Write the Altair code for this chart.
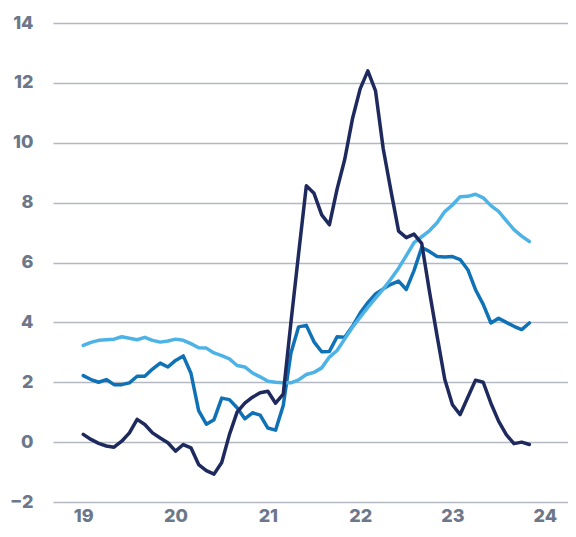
import altair as alt
import pandas as pd

# Monthly observations, Jan 2019 .. Nov 2023
start_year = 2019
dark = [0.26, 0.09, -0.04, -0.13, -0.17, 0.03, 0.31, 0.76, 0.59, 0.31, 0.14, -0.02, -0.30, -0.08, -0.19,
        -0.75, -0.95, -1.07, -0.68, 0.25, 1.0, 1.3, 1.5, 1.65, 1.7, 1.3, 1.6,
        4.0, 6.3, 8.56, 8.31, 7.59, 7.26, 8.45, 9.45, 10.8, 11.8, 12.4, 11.73, 9.8, 8.4,
        7.05, 6.83, 6.95, 6.64, 5.05, 3.55, 2.1, 1.25, 0.92, 1.5, 2.07, 2.0, 1.3, 0.7, 0.25, -0.05, 0.0, -0.08]
mid = [2.22, 2.09, 2.0, 2.09, 1.92, 1.92, 1.98, 2.2, 2.2, 2.44, 2.64, 2.51, 2.73, 2.88,
       2.3, 1.05, 0.6, 0.75, 1.47, 1.42, 1.15, 0.78, 0.98, 0.9, 0.47, 0.4, 1.22,
       2.98, 3.85, 3.9, 3.35, 3.02, 3.03, 3.52, 3.5, 3.87, 4.31, 4.66, 4.95, 5.12, 5.27,
       5.38, 5.1, 5.73, 6.5, 6.37, 6.2, 6.18, 6.2, 6.1, 5.76, 5.09, 4.6, 3.98, 4.14, 4.0, 3.87, 3.76, 3.98]
light = [3.23, 3.33, 3.4, 3.42, 3.44, 3.52, 3.47, 3.42, 3.5, 3.4, 3.34, 3.38, 3.44, 3.4, 3.29,
         3.15, 3.14, 2.98, 2.89, 2.78, 2.56, 2.51, 2.31, 2.18, 2.03, 2.0, 1.98,
         1.98, 2.08, 2.26, 2.33, 2.48, 2.84, 3.06, 3.45, 3.84, 4.17, 4.5, 4.81, 5.11, 5.45,
         5.81, 6.23, 6.66, 6.86, 7.06, 7.33, 7.7, 7.92, 8.2, 8.21, 8.28, 8.16, 7.9, 7.71, 7.4, 7.1, 6.88, 6.7]

x_ticks = [2019, 2020, 2021, 2022, 2023, 2024]
y_ticks = [-2, 0, 2, 4, 6, 8, 10, 12, 14]

colors = {"dark": "#1e2a5e", "mid": "#0f72b6", "light": "#4db3e7"}
grid_color = "#b3b8c1"
label_color = "#6c778a"

t = [start_year + i / 12 for i in range(len(dark))]


def frame(values):
    return pd.DataFrame({"t": t, "v": values})


x_enc = alt.X("t:Q",
              scale=alt.Scale(domain=[2018.672, 2024.252], nice=False, zero=False),
              axis=alt.Axis(values=x_ticks, labelExpr="format(datum.value % 100, 'd')",
                            grid=False, domain=False, ticks=False, labelPadding=5,
                            title=None))
y_enc = alt.Y("v:Q",
              scale=alt.Scale(domain=[-2, 14], nice=False),
              axis=alt.Axis(values=y_ticks, grid=True, domain=False, ticks=False,
                            labelPadding=20, title=None, format="d"))


def line(values, color):
    return alt.Chart(frame(values)).mark_line(
        color=color, strokeWidth=3.5, strokeJoin="round", strokeCap="round"
    ).encode(x=x_enc, y=y_enc)


chart = alt.layer(
    line(mid, colors["mid"]),
    line(light, colors["light"]),
    line(dark, colors["dark"]),
).properties(
    width=515, height=479,
    autosize=alt.AutoSizeParams(type="none"),
    padding={"left": 45, "top": 15, "right": 0, "bottom": 26},
).configure_view(
    stroke=None
).configure_axis(
    labelFont="Inter", labelFontWeight=800, labelFontSize=18, labelColor=label_color,
    gridColor=grid_color, gridWidth=1.5
)

chart.save("out.html", embed_options={"renderer": "svg", "actions": False})
